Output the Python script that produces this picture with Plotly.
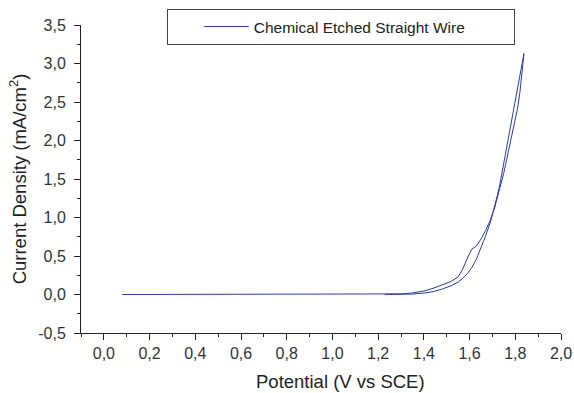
import plotly.graph_objects as go

# Forward scan (upper branch with shoulder)
fwd_x = [0.08, 0.3, 0.6, 0.9, 1.1, 1.2, 1.25, 1.3, 1.35, 1.4, 1.44, 1.48, 1.52, 1.55, 1.57,
         1.59, 1.61, 1.63, 1.65, 1.67, 1.69, 1.71, 1.73, 1.75, 1.77, 1.79, 1.80, 1.81, 1.82, 1.83, 1.838]
fwd_y = [0, 0, 0, 0, 0, 0, 0.002, 0.008, 0.02, 0.045, 0.08, 0.12, 0.17, 0.23, 0.33,
         0.47, 0.59, 0.63, 0.72, 0.83, 0.96, 1.13, 1.34, 1.58, 1.86, 2.14, 2.30, 2.42, 2.62, 2.90, 3.13]
# Reverse scan
rev_x = [1.838, 1.83, 1.82, 1.81, 1.80, 1.79, 1.77, 1.75, 1.73, 1.71, 1.69, 1.67, 1.65, 1.63,
         1.61, 1.59, 1.57, 1.55, 1.52, 1.48, 1.44, 1.40, 1.35, 1.30, 1.25, 1.23]
rev_y = [3.13, 3.00, 2.84, 2.66, 2.52, 2.36, 2.02, 1.69, 1.39, 1.15, 0.93, 0.76, 0.60, 0.46,
         0.35, 0.27, 0.21, 0.16, 0.115, 0.07, 0.037, 0.018, 0.006, 0.001, 0, 0]

x_tickvals = [0.0, 0.2, 0.4, 0.6, 0.8, 1.0, 1.2, 1.4, 1.6, 1.8, 2.0]
x_ticktext = ["0,0", "0,2", "0,4", "0,6", "0,8", "1,0", "1,2", "1,4", "1,6", "1,8", "2,0"]
y_tickvals = [-0.5, 0.0, 0.5, 1.0, 1.5, 2.0, 2.5, 3.0, 3.5]
y_ticktext = ["-0,5", "0,0", "0,5", "1,0", "1,5", "2,0", "2,5", "3,0", "3,5"]

series_name = "Chemical Etched Straight Wire"
x_title = "Potential (V vs SCE)"
y_title = "Current Density (mA/cm<sup>2</sup>)"

fig = go.Figure()
fig.add_trace(go.Scatter(
    x=fwd_x + rev_x, y=fwd_y + rev_y, mode="lines", name=series_name,
    line=dict(color="#2b3c9e", width=1),
))

font = "Liberation Sans, Arial, Helvetica, sans-serif"
axis_common = dict(
    showgrid=False, zeroline=False, showline=True, linecolor="#222", linewidth=1,
    ticks="outside", ticklen=6, tickcolor="#222", tickwidth=1,
    tickfont=dict(family=font, size=16, color="#333"),
)
fig.update_xaxes(
    range=[-0.1, 2.0], tickvals=x_tickvals, ticktext=x_ticktext,
    minor=dict(dtick=0.1, tick0=0, ticks="outside", ticklen=3, tickcolor="#222"),
    **axis_common,
)
fig.update_yaxes(
    range=[-0.5, 3.5], tickvals=y_tickvals, ticktext=y_ticktext,
    minor=dict(dtick=0.25, tick0=0, ticks="outside", ticklen=3, tickcolor="#222"),
    ticklabelstandoff=5,
    title=dict(text=y_title, font=dict(family=font, size=18.5, color="#222"), standoff=6),
    **axis_common,
)
fig.add_annotation(
    text=x_title, xref="paper", yref="paper", x=0.54, y=-0.159,
    xanchor="center", yanchor="middle", showarrow=False, borderpad=0,
    font=dict(family=font, size=18.5, color="#222"),
)
fig.update_layout(
    width=574, height=393,
    margin=dict(l=81, r=13, t=25, b=60, autoexpand=False),
    paper_bgcolor="white", plot_bgcolor="white",
    showlegend=True,
    legend=dict(
        x=0.179, y=1.052, xanchor="left", yanchor="top",
        orientation="h", entrywidth=255, itemwidth=45,
        title=dict(text="&nbsp;" * 5, side="left", font=dict(family=font, size=15)),
        bordercolor="#444", borderwidth=1, bgcolor="white",
        font=dict(family=font, size=15.5, color="#222"),
    ),
)
fig.write_html("out.html")
